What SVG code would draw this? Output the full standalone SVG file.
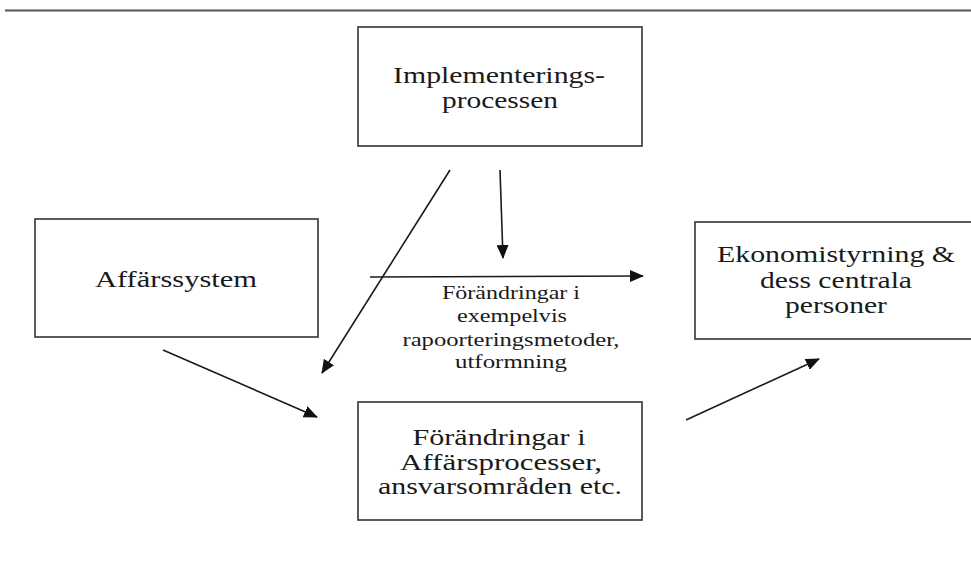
<svg xmlns="http://www.w3.org/2000/svg" width="971" height="572" viewBox="0 0 971 572">
<defs>
<style>
.box{fill:#fff;stroke:#333;stroke-width:1.6}
.t{font-family:"Liberation Serif","Times New Roman",serif;fill:#1a1a1a;text-anchor:middle}
.big{font-size:24px}
.small{font-size:19px}
.c{stroke:#1a1a1a;stroke-width:1.6;fill:none;marker-end:url(#ah)}
</style>
<marker id="ah" viewBox="0 0 14 12" refX="13" refY="6" markerWidth="14" markerHeight="12" markerUnits="userSpaceOnUse" orient="auto">
<path d="M0,0 L14,6 L0,12 z" fill="#111"/>
</marker>
</defs>
<rect width="971" height="572" fill="#fff"/>
<line x1="5" y1="10.5" x2="971" y2="10.5" stroke="#555" stroke-width="2"/>
<g id="impl">
<rect class="box" x="358" y="27" width="284" height="119"/>
<text class="t big" x="499" y="83" textLength="212" lengthAdjust="spacingAndGlyphs">Implementerings-</text>
<text class="t big" x="500" y="108" textLength="116" lengthAdjust="spacingAndGlyphs">processen</text>
</g>
<g id="affar">
<rect class="box" x="35" y="219" width="283" height="118"/>
<text class="t big" x="176" y="287" textLength="162" lengthAdjust="spacingAndGlyphs">Affärssystem</text>
</g>
<g id="ekon">
<rect class="box" x="695" y="222" width="290" height="117"/>
<text class="t big" x="836" y="262" textLength="238" lengthAdjust="spacingAndGlyphs">Ekonomistyrning &amp;</text>
<text class="t big" x="836" y="288" textLength="152" lengthAdjust="spacingAndGlyphs">dess centrala</text>
<text class="t big" x="836" y="313" textLength="102" lengthAdjust="spacingAndGlyphs">personer</text>
</g>
<g id="forand">
<rect class="box" x="358" y="402" width="284" height="118"/>
<text class="t big" x="499" y="445" textLength="173" lengthAdjust="spacingAndGlyphs">Förändringar i</text>
<text class="t big" x="501" y="470" textLength="202" lengthAdjust="spacingAndGlyphs">Affärsprocesser,</text>
<text class="t big" x="500" y="494" textLength="244" lengthAdjust="spacingAndGlyphs">ansvarsområden etc.</text>
</g>
<g id="label">
<text class="t small" x="511" y="299" textLength="138" lengthAdjust="spacingAndGlyphs">Förändringar i</text>
<text class="t small" x="512" y="322" textLength="110" lengthAdjust="spacingAndGlyphs">exempelvis</text>
<text class="t small" x="511" y="346" textLength="217" lengthAdjust="spacingAndGlyphs">rapoorteringsmetoder,</text>
<text class="t small" x="511" y="368" textLength="112" lengthAdjust="spacingAndGlyphs">utformning</text>
</g>
<g id="connectors">
<line class="c" x1="450" y1="170" x2="322" y2="373"/>
<line class="c" x1="500" y1="170" x2="503" y2="258"/>
<line class="c" x1="370" y1="277" x2="643" y2="276"/>
<line class="c" x1="163" y1="350" x2="317" y2="417"/>
<line class="c" x1="686" y1="420" x2="819" y2="359"/>
</g>
</svg>
